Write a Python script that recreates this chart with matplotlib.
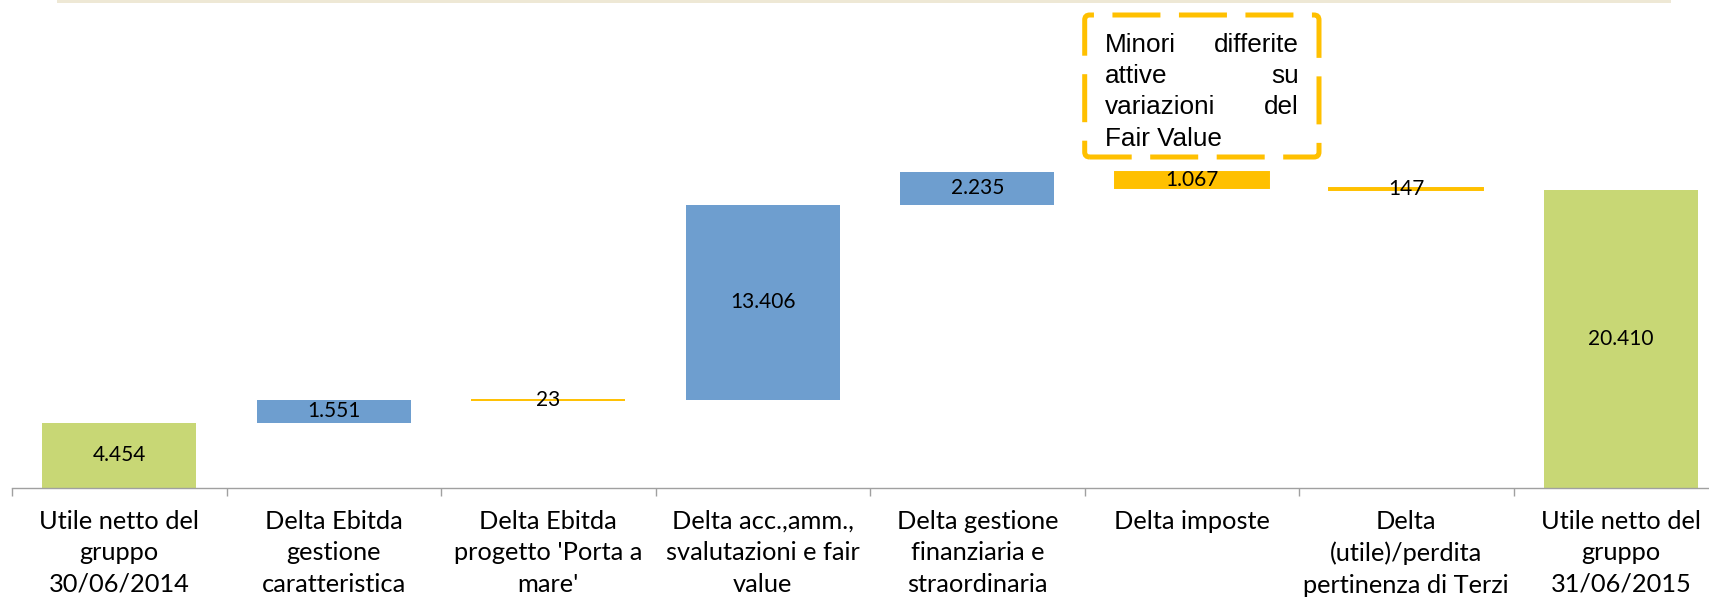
import matplotlib
matplotlib.use("Agg")
import matplotlib.pyplot as plt
from matplotlib.patches import FancyBboxPatch, Rectangle
from matplotlib.transforms import IdentityTransform, blended_transform_factory

# ---- data ----
categories = [
    "Utile netto del\ngruppo\n30/06/2014",
    "Delta Ebitda\ngestione\ncaratteristica",
    "Delta Ebitda\nprogetto 'Porta a\nmare'",
    "Delta acc.,amm.,\nsvalutazioni e fair\nvalue",
    "Delta gestione\nfinanziaria e\nstraordinaria",
    "Delta imposte",
    "Delta\n(utile)/perdita\npertinenza di Terzi",
    "Utile netto del\ngruppo\n31/06/2015",
]
values = [4454, 1551, -23, 13406, 2235, -1067, -147, 20410]
is_total = [True, False, False, False, False, False, False, True]
value_labels = ["4.454", "1.551", "23", "13.406", "2.235", "1.067", "147", "20.410"]
note_lines = [["Minori", "differite"], ["attive", "su"], ["variazioni", "del"], ["Fair Value"]]

GREEN = "#C8D775"
BLUE = "#6E9ECF"
YELLOW = "#FFC000"

W, H = 1709, 601
fig = plt.figure(figsize=(W / 100, H / 100), dpi=100)

axis_y = 487.5
px_per_unit = 0.01459
ax = fig.add_axes([12 / W, (H - axis_y) / H, 1716 / W, axis_y / H])
ax.set_xlim(-0.5, 7.5)
ax.set_ylim(0, axis_y / px_per_unit)

# waterfall geometry
running = 0
for i, (v, tot) in enumerate(zip(values, is_total)):
    if tot:
        bottom, height, color = 0, v, GREEN
        running = v
    else:
        if v >= 0:
            bottom, height, color = running, v, BLUE
        else:
            bottom, height, color = running + v, -v, YELLOW
        running += v
    lw = 1.4 if (not tot and v < 0) else 0
    ax.bar(i, height, bottom=bottom, width=0.72, color=color,
           edgecolor=color, linewidth=lw, zorder=2)
    ax.text(i, bottom + height / 2, value_labels[i], ha="center", va="center",
            fontsize=15, family="Lato", color="black", zorder=3)

for s in ["top", "left", "right"]:
    ax.spines[s].set_visible(False)
ax.spines["bottom"].set_color("#A0A0A0")
ax.spines["bottom"].set_linewidth(1.0)
ax.set_yticks([])
ax.set_xticks([x - 0.5 for x in range(9)])
ax.set_xticklabels([])
ax.tick_params(axis="x", length=5.8, width=1.0, color="#A0A0A0", direction="out")

trans = blended_transform_factory(ax.transData, IdentityTransform())
for i, c in enumerate(categories):
    ax.text(i, H - 510, c, ha="center", va="top", fontsize=18.3, family="Lato",
            linespacing=1.445, color="black", transform=trans)

# beige top band
fig.add_artist(Rectangle((56.7, H - 3.4), 1670.7 - 56.7, 3.4, transform=IdentityTransform(),
                         facecolor="#EEE8D5", edgecolor="none"))

# dashed annotation box
box = FancyBboxPatch((1084.7, H - 157), 1319 - 1084.7, 142,
                     boxstyle="round,pad=0,rounding_size=5",
                     transform=IdentityTransform(), fill=False,
                     edgecolor=YELLOW, linewidth=3.6,
                     linestyle=(1.2, (9.6, 3.7)))
fig.add_artist(box)

baselines = [51.7, 82.7, 114.2, 146.5]
for words, yb in zip(note_lines, baselines):
    fig.text(1105, H - yb, words[0], ha="left", va="baseline", fontsize=18.8,
             family="Liberation Sans", transform=IdentityTransform())
    if len(words) == 2:
        fig.text(1299, H - yb, words[1], ha="right", va="baseline", fontsize=18.8,
                 family="Liberation Sans", transform=IdentityTransform())

fig.savefig("out.png", dpi=100)
